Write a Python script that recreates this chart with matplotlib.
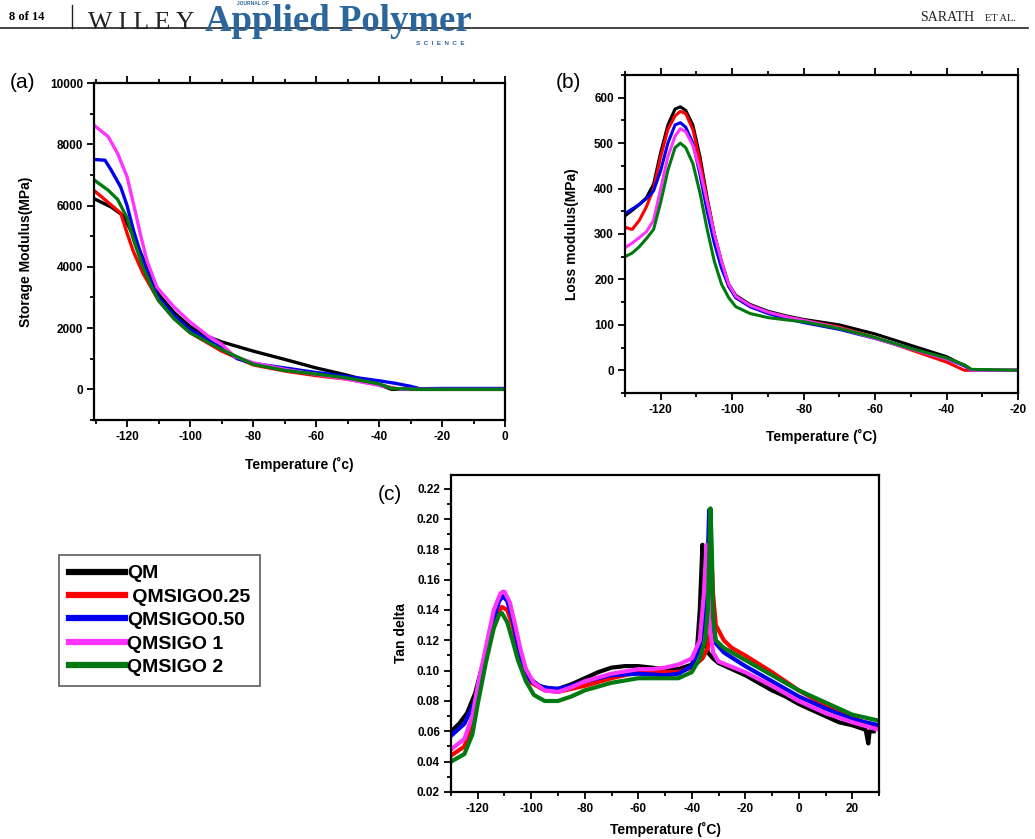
import matplotlib
matplotlib.use("Agg")
import matplotlib.pyplot as plt
from matplotlib.ticker import MultipleLocator, FormatStrFormatter
from matplotlib.lines import Line2D

plt.rcParams['font.family'] = ['Liberation Sans', 'DejaVu Sans']
plt.rcParams['axes.unicode_minus'] = False

names = ['QM', ' QMSIGO0.25', 'QMSIGO0.50', 'QMSIGO 1', 'QMSIGO 2']
colors = ['#000000', '#ff0000', '#0000ee', '#ff33ff', '#007a10']

# (a) storage modulus
t_a = {
    'QM':   [-130, -125, -121, -118, -115, -112, -110, -105, -100, -95, -90, -80, -70, -60, -50, -45, -40, -36, -20, 0],
    'R':    [-130, -126, -122, -120, -118, -115, -110, -105, -100, -90, -80, -70, -60, -50, -40, -35, -30, -20, 0],
    'B':    [-130, -127, -125, -122, -120, -118, -115, -112, -110, -105, -100, -95, -90, -85, -80, -70, -60, -50, -45, -40, -35, -30, -27, -20, 0],
    'P':    [-130, -126, -123, -120, -118, -115.8, -113.7, -110.5, -105, -100, -94.4, -90, -86, -80, -70, -60, -50, -39, -33, -20, 0],
    'G':    [-130, -126, -123, -120, -118, -115, -112, -110, -105, -100, -90, -80, -70, -60, -50, -40, -36, -28, 0],
}
e_a = {
    'QM':   [6200, 5950, 5650, 5000, 4300, 3600, 3100, 2500, 2050, 1750, 1550, 1250, 980, 700, 460, 320, 150, 0, 0, 0],
    'R':    [6450, 6100, 5750, 5100, 4500, 3800, 2900, 2300, 1850, 1250, 800, 600, 450, 330, 150, 30, 0, 0, 0],
    'B':    [7500, 7480, 7150, 6600, 6000, 5200, 4200, 3400, 3000, 2400, 1950, 1650, 1350, 1000, 850, 700, 550, 420, 350, 280, 200, 100, 20, 30, 30],
    'P':    [8580, 8250, 7700, 6940, 6070, 5080, 4200, 3330, 2680, 2200, 1750, 1480, 1080, 870, 655, 490, 330, 110, 0, 0, 0],
    'G':    [6800, 6500, 6200, 5600, 4900, 4000, 3300, 2900, 2300, 1850, 1300, 820, 620, 500, 370, 180, 30, 0, 0],
}

# (b) loss modulus
t_b = [-130, -128, -126, -124, -122, -120, -118, -116, -114.5, -113, -111, -109, -107, -105, -103, -101, -99, -95, -90, -85, -80, -70, -60, -50, -40, -35, -33, -20]
loss_qm = [340, 352, 365, 380, 410, 480, 540, 575, 580, 572, 540, 470, 380, 300, 240, 190, 165, 145, 130, 120, 112, 100, 80, 55, 30, 10, 0, 0]
loss_025 = [315, 310, 330, 360, 400, 470, 530, 560, 570, 565, 530, 460, 375, 300, 235, 185, 160, 140, 127, 118, 110, 95, 72, 45, 18, 0, 0, 0]
loss_050 = [345, 355, 365, 378, 395, 440, 500, 540, 545, 535, 500, 430, 350, 280, 225, 185, 160, 140, 125, 114, 105, 90, 70, 48, 25, 10, 0, 0]
loss_1 = [270, 280, 292, 305, 330, 400, 470, 515, 532, 525, 495, 440, 370, 300, 240, 190, 163, 143, 128, 118, 110, 93, 70, 47, 25, 12, 0, 0]
loss_2 = [250, 258, 272, 290, 310, 370, 440, 490, 500, 490, 455, 390, 310, 240, 190, 160, 140, 125, 116, 111, 107, 92, 72, 48, 27, 12, 2, 0]

# (c) tan delta
t_c = {
    'QM': [-130, -127, -124, -121, -118, -115, -112, -110.5, -109, -107, -105, -103, -100, -97, -93, -90, -85, -80, -75, -70, -65, -60, -55, -50, -45, -40, -38, -37, -36, -35.5, -35, -34, -32, -30, -25, -20, -15, -10, -5, 0, 5, 10, 15, 20, 25, 26, 26.5, 28],
    'R': [-130, -125, -122, -120, -117, -114, -111, -109, -107, -105, -103, -100, -95, -90, -85, -80, -70, -60, -50, -45, -40, -36, -34, -33, -32.5, -32, -31, -28, -25, -20, -10, 0, 10, 20, 30],
    'B': [-130, -125, -121, -118, -115, -112, -110.5, -109, -107, -105, -103, -100, -96, -90, -85, -80, -70, -60, -50, -45, -40, -37, -35, -34, -33.5, -33, -32, -31, -28, -20, -10, 0, 10, 20, 30],
    'P': [-130, -125, -122, -120, -117, -114, -111.5, -110, -108, -106, -104, -102, -99, -95, -90, -85, -80, -70, -60, -55, -50, -45, -40, -37, -35.5, -34.5, -34, -33, -32, -30, -20, -10, 0, 10, 20, 30],
    'G': [-130, -125, -122, -120, -117, -114, -112, -111, -109, -107, -105, -102, -99, -95, -90, -85, -80, -70, -60, -50, -45, -40, -37, -35, -34, -33, -32.5, -32, -31, -28, -20, -10, 0, 10, 20, 30],
}
tan_c = {
    'QM': [0.060, 0.065, 0.072, 0.085, 0.105, 0.130, 0.148, 0.152, 0.148, 0.135, 0.118, 0.104, 0.094, 0.090, 0.088, 0.088, 0.091, 0.095, 0.099, 0.102, 0.103, 0.103, 0.102, 0.101, 0.101, 0.104, 0.115, 0.140, 0.183, 0.150, 0.125, 0.112, 0.108, 0.105, 0.101, 0.097, 0.092, 0.087, 0.083, 0.078, 0.074, 0.070, 0.066, 0.064, 0.061, 0.052, 0.060, 0.060],
    'R': [0.044, 0.050, 0.065, 0.085, 0.112, 0.134, 0.142, 0.140, 0.130, 0.115, 0.102, 0.092, 0.087, 0.086, 0.088, 0.090, 0.095, 0.099, 0.099, 0.099, 0.102, 0.108, 0.115, 0.125, 0.170, 0.150, 0.130, 0.120, 0.115, 0.110, 0.099, 0.087, 0.077, 0.069, 0.062],
    'B': [0.057, 0.065, 0.080, 0.103, 0.128, 0.146, 0.149, 0.146, 0.134, 0.117, 0.103, 0.093, 0.089, 0.088, 0.090, 0.093, 0.097, 0.098, 0.097, 0.098, 0.103, 0.115, 0.140, 0.175, 0.206, 0.170, 0.130, 0.118, 0.112, 0.103, 0.093, 0.083, 0.075, 0.068, 0.064],
    'P': [0.048, 0.055, 0.070, 0.090, 0.115, 0.140, 0.151, 0.152, 0.145, 0.130, 0.114, 0.101, 0.092, 0.087, 0.086, 0.089, 0.093, 0.098, 0.101, 0.101, 0.102, 0.104, 0.108, 0.120, 0.150, 0.183, 0.160, 0.125, 0.112, 0.106, 0.099, 0.090, 0.080, 0.072, 0.066, 0.061],
    'G': [0.040, 0.045, 0.058, 0.078, 0.105, 0.128, 0.137, 0.138, 0.132, 0.120, 0.107, 0.093, 0.084, 0.080, 0.080, 0.083, 0.087, 0.092, 0.095, 0.095, 0.095, 0.099, 0.108, 0.120, 0.140, 0.207, 0.180, 0.135, 0.120, 0.115, 0.107, 0.097, 0.087, 0.079, 0.071, 0.067],
}

W, H = 1035, 839
fig = plt.figure(figsize=(W / 100, H / 100), dpi=100)


def box(l, t, r, b):
    return [l / W, 1 - b / H, (r - l) / W, (b - t) / H]


def style(ax, top=True):
    for s in ax.spines.values():
        s.set_linewidth(1.6)
    ax.tick_params(which='both', direction='out', width=1.3, labelsize=8.5,
                   top=top, right=False, pad=3)
    ax.tick_params(which='major', length=5)
    ax.tick_params(which='minor', length=3)
    for lab in ax.get_xticklabels() + ax.get_yticklabels():
        lab.set_fontweight('bold')


keys = ['QM', 'R', 'B', 'P', 'G']

# panel (a)
ax1 = fig.add_axes(box(94, 83, 505, 420))
for k, c in zip(keys, colors):
    ax1.plot(t_a[k], e_a[k], color=c, lw=2.4)
ax1.set_xlim(-130.5, 0)
ax1.set_ylim(-1000, 10000)
ax1.xaxis.set_major_locator(MultipleLocator(20))
ax1.xaxis.set_minor_locator(MultipleLocator(10))
ax1.yaxis.set_major_locator(MultipleLocator(2000))
ax1.yaxis.set_minor_locator(MultipleLocator(1000))
ax1.set_xlabel('Temperature (˚c)', fontsize=10, fontweight='bold', labelpad=10)
ax1.set_ylabel('Storage Modulus(MPa)', fontsize=10, fontweight='bold', labelpad=12)
style(ax1)

# panel (b)
ax2 = fig.add_axes(box(625, 75, 1018, 393))
for y, c in zip([loss_qm, loss_025, loss_050, loss_1, loss_2], colors):
    ax2.plot(t_b, y, color=c, lw=2.2)
ax2.set_xlim(-130, -20)
ax2.set_ylim(-50, 650)
ax2.xaxis.set_major_locator(MultipleLocator(20))
ax2.xaxis.set_minor_locator(MultipleLocator(10))
ax2.yaxis.set_major_locator(MultipleLocator(100))
ax2.yaxis.set_minor_locator(MultipleLocator(50))
ax2.set_xlabel('Temperature (˚C)', fontsize=10, fontweight='bold', labelpad=9)
ax2.set_ylabel('Loss modulus(MPa)', fontsize=10, fontweight='bold', labelpad=11)
style(ax2)

# panel (c)
ax3 = fig.add_axes(box(451, 475, 879, 792))
for k, c in zip(keys, colors):
    ax3.plot(t_c[k], tan_c[k], color=c, lw=3.0)
ax3.set_xlim(-130, 30)
ax3.set_ylim(0.02, 0.229)
ax3.xaxis.set_major_locator(MultipleLocator(20))
ax3.xaxis.set_minor_locator(MultipleLocator(10))
ax3.yaxis.set_major_locator(MultipleLocator(0.02))
ax3.yaxis.set_minor_locator(MultipleLocator(0.01))
ax3.yaxis.set_major_formatter(FormatStrFormatter('%.2f'))
ax3.set_xlabel('Temperature (˚C)', fontsize=10, fontweight='bold', labelpad=5)
ax3.set_ylabel('Tan delta', fontsize=10, fontweight='bold', labelpad=6)
style(ax3, top=False)

# panel letters
fig.text(10 / W, 1 - 88 / H, '(a)', fontsize=15)
fig.text(556 / W, 1 - 88 / H, '(b)', fontsize=15)
fig.text(378 / W, 1 - 500 / H, '(c)', fontsize=15)

# legend
handles = [Line2D([], [], color=c, lw=4.5) for c in colors]
leg = fig.legend(handles, names, loc='upper left', bbox_to_anchor=(59 / W, 1 - 555 / H),
                 frameon=True, fancybox=False, handlelength=2.9, handletextpad=0.1,
                 labelspacing=0.3, borderpad=0.5, borderaxespad=0,
                 prop={'weight': 'bold', 'size': 14})
leg.get_frame().set_edgecolor('#333333')
leg.get_frame().set_linewidth(1.2)

# journal header
fig.add_artist(Line2D([0, 1028 / W], [1 - 28 / H] * 2, color='#222222', lw=1.2))
fig.add_artist(Line2D([72 / W] * 2, [1 - 5 / H, 1 - 28 / H], color='#222222', lw=1.0))
fig.text(9 / W, 1 - 20 / H, '8 of 14', fontsize=9, fontweight='bold', family='Liberation Serif')
fig.text(88 / W, 1 - 29 / H, 'W I L E Y', fontsize=18.5, family='Liberation Serif', color='#222222')
fig.text(205 / W, 1 - 31 / H, 'Applied Polymer', fontsize=26.5, fontweight='bold',
         family='Liberation Serif', color='#2b679c')
fig.text(237 / W, 1 - 5 / H, 'JOURNAL OF', fontsize=3.5, fontweight='bold', color='#2b679c')
fig.text(416 / W, 1 - 45 / H, 'S  C  I  E  N  C  E', fontsize=4.5, fontweight='bold', color='#2b679c')
fig.text(920 / W, 1 - 21 / H, 'SARATH', fontsize=10, family='Liberation Serif', color='#222222')
fig.text(985 / W, 1 - 21 / H, 'ET AL.', fontsize=7.5, family='Liberation Serif', color='#222222')

fig.savefig('out.png', dpi=100)
